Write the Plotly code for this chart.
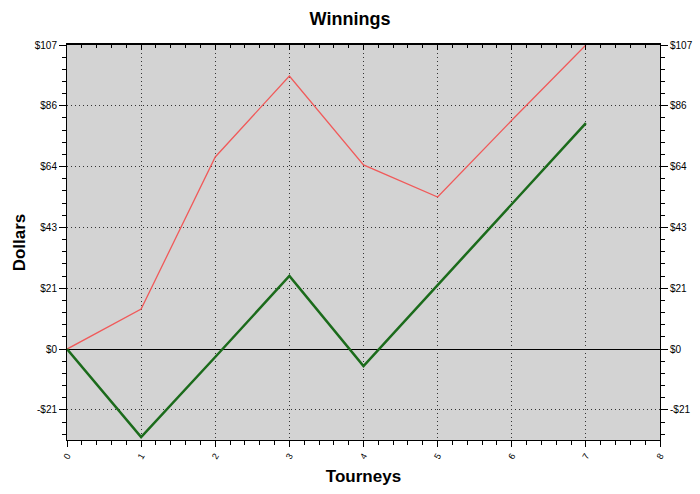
import plotly.graph_objects as go

tourneys = [0, 1, 2, 3, 4, 5, 6, 7]
red_series = [0, 14.1, 67.6, 96.1, 64.8, 53.5, 80.5, 107]
green_series = [0, -31, -2.8, 25.7, -6, 22.5, 51, 79.5]
y_tickvals = [-21.4, 0, 21.4, 42.8, 64.2, 85.6, 107]
y_ticktext = ["-$21", "$0", "$21", "$43", "$64", "$86", "$107"]
x_tickvals = [0, 1, 2, 3, 4, 5, 6, 7, 8]

FONT = "Liberation Sans, Arial, sans-serif"
GRID = dict(showgrid=True, gridcolor="#333333", griddash="1px,3px", gridwidth=1)
fig = go.Figure()
fig.add_trace(go.Scatter(x=tourneys, y=red_series, mode="lines",
                         line=dict(color="#f05a5a", width=1.3), showlegend=False))
fig.add_trace(go.Scatter(x=tourneys, y=green_series, mode="lines",
                         line=dict(color="#1b6b1b", width=2.5), showlegend=False))

yr = [-32, 107]
fig.update_layout(
    width=700, height=494,
    paper_bgcolor="white", plot_bgcolor="#d3d3d3",
    margin=dict(l=67, r=40, t=45, b=54),
    font=dict(family=FONT, size=10, color="black"),
    title=dict(text="<b>Winnings</b>", x=0.5, xanchor="center", y=0.962, yanchor="middle",
               font=dict(size=18, family=FONT)),
    xaxis=dict(range=[0, 8], tickvals=x_tickvals, ticks="outside", ticklen=6, tickcolor="black",
               showline=True, linecolor="black", linewidth=1, automargin=False,
               tickangle=-60, tickfont=dict(size=9),
               zeroline=False,
               minor=dict(dtick=0.2, tick0=0, ticks="outside", ticklen=4, tickcolor="black", showgrid=False),
               title=dict(text="<b>Tourneys</b>", font=dict(size=17), standoff=10), **GRID),
    xaxis2=dict(range=[0, 8], overlaying="x", side="top", tickvals=x_tickvals, ticks="inside",
                ticklen=5, tickcolor="black", showticklabels=False, showgrid=False, zeroline=False,
                showline=True, linecolor="black", linewidth=2, automargin=False,
                minor=dict(dtick=0.2, tick0=0, ticks="inside", ticklen=3, tickcolor="black")),
    yaxis=dict(range=yr, tickvals=y_tickvals, ticktext=y_ticktext, ticks="outside", ticklen=7,
               tickcolor="black", showline=True, linecolor="black", linewidth=1, automargin=False,
               zeroline=True, zerolinecolor="black", zerolinewidth=1,
               minor=dict(tick0=0, dtick=4.28, ticks="outside", ticklen=4, tickcolor="black", showgrid=False),
               title=dict(text="<b>Dollars</b>", font=dict(size=17), standoff=4), **GRID),
    yaxis2=dict(range=yr, overlaying="y", side="right", tickvals=y_tickvals, ticktext=y_ticktext,
                ticks="outside", ticklen=7, tickcolor="black", showline=True, linecolor="black",
                linewidth=1, showgrid=False, zeroline=False, automargin=False,
                minor=dict(tick0=0, dtick=4.28, ticks="outside", ticklen=4, tickcolor="black")),
)
fig.add_trace(go.Scatter(x=[None], y=[None], xaxis="x2", yaxis="y2", showlegend=False))
fig.write_html("out.html", config={"displayModeBar": False},
               post_script="document.body.style.margin='0px';")
